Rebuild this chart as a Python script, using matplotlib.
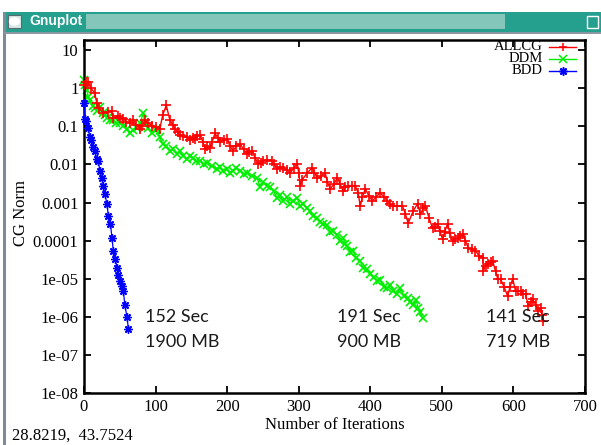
import matplotlib
matplotlib.use("Agg")
import matplotlib.pyplot as plt
from matplotlib.patches import Rectangle, Circle
from matplotlib.lines import Line2D

# ---------------- data ----------------
allcg_iter = [0, 3, 6, 10, 15, 18, 21, 27, 33, 39, 41, 47, 50, 55, 59, 64, 69, 73, 78,
              81, 85, 90, 95, 100, 106, 110, 115, 120, 124, 127, 131, 134, 139, 144,
              148, 152, 155, 158, 162, 166, 169, 172, 176, 179, 183, 187, 190, 195,
              200, 204, 208, 213, 218, 223, 228, 231, 235, 239, 243, 247, 250, 256,
              263, 266, 270, 274, 278, 283, 288, 293, 298, 300, 302, 305, 312, 319,
              322, 326, 331, 337, 340, 344, 349, 354, 358, 362, 365, 369, 374, 379,
              383, 386, 389, 393, 398, 403, 408, 414, 419, 424, 428, 432, 438, 445,
              449, 453, 460, 466, 470, 474, 477, 482, 487, 490, 494, 497, 501, 504,
              508, 511, 515, 518, 522, 526, 530, 533, 537, 542, 547, 552, 557, 558,
              561, 565, 568, 571, 575, 578, 582, 587, 592, 595, 599, 603, 606, 610,
              613, 617, 621, 624, 627, 631, 634, 638, 640, 642]
allcg_norm = [1.2, 1.5, 1.45, 1.0, 0.74, 0.40, 0.30, 0.23, 0.24, 0.26, 0.17, 0.19,
              0.17, 0.16, 0.13, 0.126, 0.145, 0.11, 0.087, 0.10, 0.145, 0.12, 0.105,
              0.095, 0.087, 0.2, 0.355, 0.145, 0.11, 0.087, 0.07, 0.058, 0.055, 0.051,
              0.043, 0.05, 0.048, 0.055, 0.058, 0.04, 0.026, 0.03, 0.0275, 0.04,
              0.065, 0.05, 0.038, 0.045, 0.048, 0.03, 0.023, 0.03, 0.035, 0.025,
              0.019, 0.021, 0.023, 0.015, 0.0105, 0.011, 0.0126, 0.013, 0.0126, 0.01,
              0.0078, 0.0085, 0.0083, 0.007, 0.006, 0.008, 0.0105, 0.006, 0.00275,
              0.004, 0.006, 0.0083, 0.006, 0.0043, 0.005, 0.006, 0.0035, 0.0023,
              0.003, 0.0045, 0.003, 0.002, 0.0025, 0.00275, 0.0028, 0.00275, 0.0018,
              0.00081, 0.0014, 0.0023, 0.0015, 0.0011, 0.0014, 0.0018, 0.0014, 0.0011,
              0.0009, 0.00081, 0.0008, 0.00081, 0.0005, 0.00029, 0.0006, 0.00093,
              0.0005, 0.0007, 0.00081, 0.0004, 0.00021, 0.00023, 0.00028, 0.00018,
              0.00011, 0.00017, 0.00028, 0.00016, 9.8e-5, 1.1e-4, 1.17e-4, 1.3e-4,
              1.48e-4, 1.0e-4, 6.3e-5, 6.0e-5, 5.4e-5, 4.0e-5, 3.5e-5, 1.6e-5, 2.2e-5,
              2.4e-5, 2.7e-5, 2.9e-5, 1.6e-5, 1.0e-5, 9.8e-6, 6.0e-6, 3.5e-6, 6.0e-6,
              1.0e-5, 4.7e-6, 4.7e-6, 4.7e-6, 4.0e-6, 3.9e-6, 1.9e-6, 2.4e-6, 2.9e-6,
              2.1e-6, 1.4e-6, 1.7e-6, 1.1e-6, 7.6e-7]

ddm_iter = [0, 2, 4, 6, 8, 12, 15, 18, 22, 26, 29, 32, 36, 41, 45, 50, 55, 60, 64, 68,
            74, 78, 83, 85, 90, 95, 99, 102, 106, 110, 115, 120, 125, 130, 134, 139,
            144, 148, 152, 157, 162, 167, 172, 179, 186, 190, 194, 200, 204, 208, 213,
            218, 223, 228, 235, 242, 246, 250, 255, 260, 265, 270, 274, 278, 283, 288,
            292, 298, 302, 306, 311, 316, 320, 326, 330, 334, 340, 344, 348, 354, 358,
            362, 365, 368, 372, 376, 380, 386, 390, 395, 400, 405, 410, 414, 419, 424,
            428, 432, 437, 442, 447, 452, 456, 460, 464, 467, 470, 473]
ddm_norm = [1.62, 1.2, 0.89, 0.6, 0.48, 0.35, 0.3, 0.26, 0.32, 0.22, 0.2, 0.17, 0.15,
            0.145, 0.12, 0.126, 0.1, 0.087, 0.065, 0.08, 0.093, 0.12, 0.22, 0.12,
            0.09, 0.065, 0.08, 0.087, 0.051, 0.035, 0.03, 0.023, 0.025, 0.019, 0.023,
            0.017, 0.014, 0.017, 0.015, 0.012, 0.0126, 0.01, 0.0112, 0.009, 0.0078,
            0.0085, 0.0069, 0.0075, 0.006, 0.0069, 0.008, 0.0069, 0.0055, 0.0058,
            0.005, 0.0045, 0.0025, 0.0035, 0.0028, 0.0025, 0.002, 0.0013, 0.0016,
            0.0011, 0.0014, 0.0009, 0.0011, 0.0013, 0.0008, 0.00093, 0.0007, 0.0006,
            0.00045, 0.0004, 0.0003, 0.00028, 0.00025, 0.00017, 0.00018, 0.00014,
            0.0001, 1.17e-4, 8.0e-5, 7.2e-5, 5.0e-5, 5.4e-5, 3.6e-5, 2.9e-5, 1.9e-5,
            1.8e-5, 1.3e-5, 1.1e-5, 8.5e-6, 9.0e-6, 6.0e-6, 5.6e-6, 7.0e-6, 4.7e-6,
            4.0e-6, 5.6e-6, 3.5e-6, 3.1e-6, 2.5e-6, 2.1e-6, 2.8e-6, 1.7e-6, 1.3e-6,
            9.1e-7]

bdd_iter = [0, 1, 3, 6, 8, 10, 13, 15, 18, 20, 22, 25, 27, 29, 32, 34, 37, 39, 41,
            44, 46, 48, 50, 53, 55, 57, 60, 62]
bdd_norm = [0.40, 0.16, 0.14, 0.093, 0.051, 0.045, 0.028, 0.023, 0.014, 0.0126,
            0.0069, 0.0045, 0.0028, 0.0017, 0.00093, 0.00045, 0.00028, 1.17e-4,
            5.4e-5, 3.2e-5, 1.9e-5, 1.26e-5, 8.5e-6, 6.3e-6, 4.7e-6, 2.1e-6, 1.0e-6,
            4.9e-7]

series_labels = ["ALLCG", "DDM", "BDD"]
ytick_values = [1e1, 1, 1e-1, 1e-2, 1e-3, 1e-4, 1e-5, 1e-6, 1e-7, 1e-8]
ytick_labels = ["10", "1", "0.1", "0.01", "0.001", "0.0001", "1e-05", "1e-06",
                "1e-07", "1e-08"]
xtick_values = [0, 100, 200, 300, 400, 500, 600, 700]
annotations = [(145, "152 Sec", "1900 MB"), (337, "191 Sec", "900 MB"),
               (486, "141 Sec", "719 MB")]
status_text = "28.8219,  43.7524"

# ---------------- figure ----------------
W, H = 601, 445
fig = plt.figure(figsize=(W / 100, H / 100), dpi=100)
fig.patch.set_facecolor("white")

def fx(px):
    return px / W

def fy(py):
    return 1 - py / H

# window chrome
teal = "#26a08e"
fig.patches.append(Rectangle((fx(4), fy(32)), fx(601 - 4), (32 - 12) / H,
                             transform=fig.transFigure, facecolor=teal,
                             edgecolor="none", zorder=0))
fig.patches.append(Rectangle((fx(86), fy(29)), fx(505 - 86), (29 - 14) / H,
                             transform=fig.transFigure, facecolor="#84c6b9",
                             edgecolor="none", zorder=1))
fig.patches.append(Rectangle((fx(3), fy(445)), fx(3), (445 - 12) / H,
                             transform=fig.transFigure, facecolor="#7d8a98",
                             edgecolor="none", zorder=1))
fig.patches.append(Rectangle((fx(4), fy(34)), fx(597), 2 / H,
                             transform=fig.transFigure, facecolor="#8a96a2",
                             edgecolor="none", zorder=1))
# close button icon
fig.patches.append(Rectangle((fx(8), fy(28)), fx(13), 13 / H,
                             transform=fig.transFigure, facecolor="#d8e8e4",
                             edgecolor="#5a6a70", linewidth=0.8, zorder=2))
fig.patches.append(Circle((fx(14.5), fy(21.5)), 4.2 / H,
                          transform=fig.transFigure, facecolor="white",
                          edgecolor="none", zorder=3))
fig.text(fx(29), fy(21.5), "Gnuplot", color="white", fontsize=10,
         fontweight="bold", family="Liberation Sans", va="center", ha="left")
fig.patches.append(Rectangle((fx(587), fy(28)), fx(11), 12 / H,
                             transform=fig.transFigure, facecolor="none",
                             edgecolor="white", linewidth=1.0, zorder=2))

# axes
x0, x1, ytop, ybot = 84, 585, 40, 393
ax = fig.add_axes([fx(x0), fy(ybot), fx(x1 - x0), (ybot - ytop) / H])
ax.set_yscale("log")
ax.set_xlim(0, 700)
ax.set_ylim(1e-8, 18.5)

serif = "Liberation Serif"
ax.plot(allcg_iter, allcg_norm, color="#ff0000", lw=1.0, marker="+",
        markersize=7, markeredgewidth=1.2, zorder=3, clip_on=False)
ax.plot(ddm_iter, ddm_norm, color="#00ee00", lw=1.0, marker="x",
        markersize=6, markeredgewidth=1.2, zorder=2, clip_on=False)
ax.plot(bdd_iter, bdd_norm, color="#0000ff", lw=0.9, marker=(8, 2, 0),
        markersize=6, markeredgewidth=1.0, zorder=4, clip_on=False)

ax.set_yticks(ytick_values)
ax.set_yticklabels(ytick_labels)
ax.minorticks_off()
ax.set_xticks(xtick_values)
ax.set_xticklabels([str(v) for v in xtick_values])
ax.tick_params(direction="in", length=5, width=1.3, top=True, right=True,
               labelsize=12, pad=4, colors="black")
for lab in ax.get_xticklabels() + ax.get_yticklabels():
    lab.set_family(serif)
for s in ax.spines.values():
    s.set_linewidth(1.8)
    s.set_color("black")

ax.set_xlabel("Number of Iterations", family=serif, fontsize=12, labelpad=2)
ax.set_ylabel("CG Norm", family=serif, fontsize=12)
ax.yaxis.set_label_coords((29 - x0) / (x1 - x0), 0.51)

# legend (manual, gnuplot style: right-aligned text then sample)
leg_colors = ["#ff0000", "#00ee00", "#0000ff"]
leg_markers = ["+", "x", (8, 2, 0)]
leg_y = [47, 59, 71]
for lab, c, m, py in zip(series_labels, leg_colors, leg_markers, leg_y):
    ya = (ybot - py) / (ybot - ytop)
    ax.text((543 - x0) / (x1 - x0), ya, lab, transform=ax.transAxes,
            ha="right", va="center", family=serif, fontsize=10.5)
    ax.add_line(Line2D([(549 - x0) / (x1 - x0), (576 - x0) / (x1 - x0)], [ya, ya],
                       transform=ax.transAxes, color=c, lw=1.0))
    ax.add_line(Line2D([(562.5 - x0) / (x1 - x0)], [ya], transform=ax.transAxes,
                       color=c, marker=m, markersize=6, markeredgewidth=1.1,
                       lw=0))

# annotations
for px, l1, l2 in annotations:
    fig.text(fx(px), fy(317), l1, family="Lato", fontsize=13, color="#1a1a1a",
             va="center", ha="left")
    fig.text(fx(px), fy(342), l2, family="Lato", fontsize=13, color="#1a1a1a",
             va="center", ha="left")

fig.text(fx(12), fy(436), status_text, family=serif, fontsize=12,
         va="center", ha="left")

fig.savefig("out.png", dpi=100)
